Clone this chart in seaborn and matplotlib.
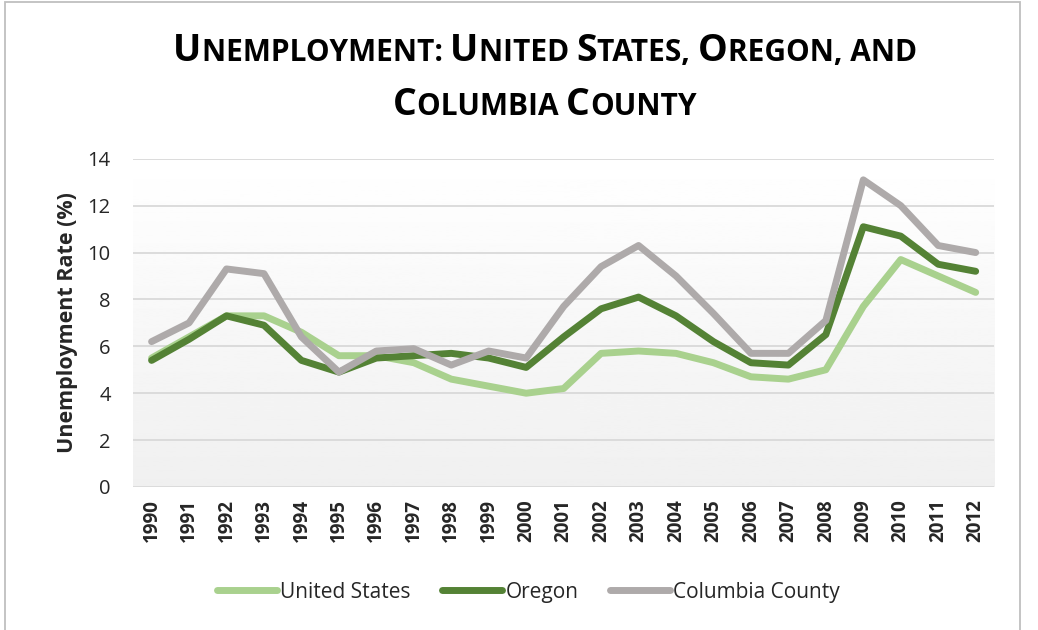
import numpy as np
import pandas as pd
import seaborn as sns
import matplotlib.pyplot as plt
from matplotlib.patches import Rectangle
from matplotlib.offsetbox import TextArea, HPacker, VPacker, AnchoredOffsetbox

years = list(range(1990, 2013))
united_states = [5.5, 6.4, 7.3, 7.3, 6.6, 5.6, 5.6, 5.3, 4.6, 4.3, 4.0, 4.2,
                 5.7, 5.8, 5.7, 5.3, 4.7, 4.6, 5.0, 7.7, 9.7, 9.0, 8.3]
oregon = [5.4, 6.3, 7.3, 6.9, 5.4, 4.9, 5.5, 5.6, 5.7, 5.5, 5.1, 6.4,
          7.6, 8.1, 7.3, 6.2, 5.3, 5.2, 6.5, 11.1, 10.7, 9.5, 9.2]
columbia = [6.2, 7.0, 9.3, 9.1, 6.4, 4.9, 5.8, 5.9, 5.2, 5.8, 5.5, 7.7,
            9.4, 10.3, 9.0, 7.4, 5.7, 5.7, 7.1, 13.1, 12.0, 10.3, 10.0]
series = ['United States', 'Oregon', 'Columbia County']
colors = ['#A9D18E', '#548235', '#AEAAAA']

df = pd.DataFrame({'Year': years * 3,
                   'Rate': united_states + oregon + columbia,
                   'Area': [s for s in series for _ in years]})

sns.set_theme(style='white')
plt.rcParams['font.family'] = ['Open Sans', 'DejaVu Sans']

fig = plt.figure(figsize=(10.38, 6.30), dpi=100)
ax = fig.add_axes([0.128, 0.227, 0.830, 0.521])

# soft grey gradient behind the plot area
grad = np.linspace(0.94, 1.0, 256).reshape(-1, 1)
ax.imshow(grad, extent=[0, 1, 0, 1], transform=ax.transAxes, aspect='auto',
          cmap='gray', vmin=0, vmax=1, origin='lower', zorder=-1)

sns.lineplot(data=df, x='Year', y='Rate', hue='Area', hue_order=series,
             palette=colors, linewidth=5, ax=ax, legend=True,
             solid_capstyle='round', solid_joinstyle='round')

ax.set_xlim(1989.5, 2012.5)
ax.set_ylim(0, 14)
ax.set_yticks(range(0, 15, 2))
ax.set_xticks(years)
ax.set_xticklabels([str(y) for y in years], rotation=90, fontweight='bold', fontsize=13.5)
ax.tick_params(axis='y', labelsize=14.5, pad=16, length=0)
ax.tick_params(axis='x', length=0, pad=9)
ax.grid(axis='y', color='#D9D9D9', linewidth=1.3)
ax.set_axisbelow(True)
for s in ax.spines.values():
    s.set_visible(False)
ax.set_xlabel('')
ax.set_ylabel('Unemployment Rate (%)', fontsize=15.5, fontweight='bold', labelpad=7)

leg = ax.legend(loc='center', bbox_to_anchor=(0.459, -0.32), ncol=3, frameon=False,
                fontsize=15, handlelength=2.9, handletextpad=0.15, columnspacing=1.5)
for line in leg.get_lines():
    line.set_linewidth(5)
    line.set_solid_capstyle('round')

# small caps title
def caps_line(runs, big=27, small=21.5):
    kids = []
    for txt, is_big in runs:
        kids.append(TextArea(txt, textprops=dict(fontsize=big if is_big else small,
                                                 fontweight='bold', color='black')))
    return HPacker(children=kids, align='baseline', pad=0, sep=0)

line1 = caps_line([('U', True), ('NEMPLOYMENT: ', False), ('U', True), ('NITED ', False),
                   ('S', True), ('TATES, ', False), ('O', True), ('REGON, AND', False)])
line2 = caps_line([('C', True), ('OLUMBIA ', False), ('C', True), ('OUNTY', False)])
title = VPacker(children=[line1, line2], align='center', pad=0, sep=12)
anch = AnchoredOffsetbox(loc='upper center', child=title, pad=0, frameon=False,
                         bbox_to_anchor=(545 / 1038, 1 - 24 / 630),
                         bbox_transform=fig.transFigure)
fig.add_artist(anch)

fig.add_artist(Rectangle((5 / 1038, -0.1), 1015 / 1038, 1.1 - 2 / 630, fill=False,
                         edgecolor='#BFBFBF', linewidth=1.3, transform=fig.transFigure))

fig.savefig('out.png', dpi=100)
